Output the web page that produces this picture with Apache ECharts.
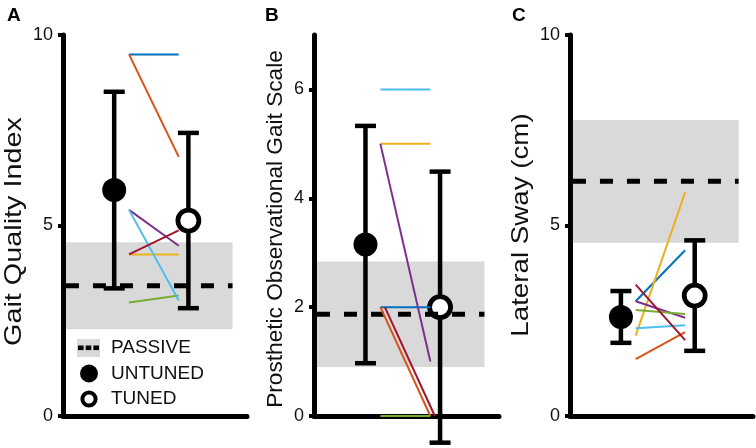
<!DOCTYPE html>
<html>
<head>
<meta charset="utf-8">
<script src="https://cdn.jsdelivr.net/npm/echarts@6/dist/echarts.min.js"></script>
<style>
html,body{margin:0;padding:0;background:#fff;}
#chart{width:756px;height:448px;}
</style>
</head>
<body>
<div id="chart"></div>
<script>
// ---------- DATA ----------
const panelLetters = ['A', 'B', 'C'];
const axisTitles = ['Gait Quality Index', 'Prosthetic Observational Gait Scale', 'Lateral Sway (cm)'];
const yMax = [10, 7, 10];
const yTicks = [[0, 5, 10], [0, 2, 4, 6], [0, 5, 10]];
const subjectColors = ['#0072BD', '#D95319', '#EDB120', '#7E2F8E', '#77AC30', '#4DBEEE', '#A2142F'];

// per-subject values (untuned -> tuned), subjects in colour order above
const gqiUntuned = [9.49, 9.49, 4.24, 5.41, 2.98, 5.41, 4.24];
const gqiTuned   = [9.49, 6.80, 4.24, 4.47, 3.16, 3.03, 4.87];
const pogsUntuned = [2, 2, 5, 5, 0, 6, 2];
const pogsTuned   = [2, 0, 5, 1, 0, 6, 0];
const swayUntuned = [3.01, 1.49, 2.11, 3.01, 2.78, 2.30, 3.45];
const swayTuned   = [4.35, 2.20, 5.87, 2.58, 2.68, 2.38, 1.99];

// group mean and SD per panel
const untunedMean = [5.93, 3.15, 2.60];
const untunedSd   = [2.58, 2.18, 0.68];
const tunedMean   = [5.13, 2.00, 3.16];
const tunedSd     = [2.30, 2.49, 1.45];
const passiveMean = [3.42, 1.87, 6.16];
const passiveSd   = [1.14, 0.97, 1.61];

const legendLabels = ['PASSIVE', 'UNTUNED', 'TUNED'];

// ---------- LAYOUT ----------
const FONT = '"Liberation Sans", Arial, Helvetica, sans-serif';
const X_MIN = 0.31, X_MAX = 2.79;
const X_UNTUNED = 1, X_TUNED = 2;
const X_IND0 = 1.2, X_IND1 = 1.87;
const X_BAND0 = 0.35, X_BAND1 = 2.595;
const grids = [
  {left: 63, top: 35, width: 184, height: 381},
  {left: 314, top: 35, width: 185, height: 381},
  {left: 570, top: 35, width: 183, height: 381}
];
// rotated axis titles: centre, font size, stretch along the text
const titleX = [14, 276, 521.5];
const titleY = [231.5, 229, 225];
const titleSize = [24, 22, 24];
const titleStretch = [1.2, 1.03, 1.155];
const letterX = [7, 265, 512];
const pairs = [[gqiUntuned, gqiTuned], [pogsUntuned, pogsTuned], [swayUntuned, swayTuned]];
// small horizontal offset to keep overlapping subject lines visible (panel B, dark red)
const lineShift = [[0,0,0,0,0,0,0],[0,0,0,0,0,0,0.06],[0,0,0,0,0,0,0]];

const xAxes = [], yAxes = [], series = [];
for (let p = 0; p < 3; p++) {
  xAxes.push({
    type: 'value', gridIndex: p, min: X_MIN, max: X_MAX,
    axisLine: {show: true, lineStyle: {color: '#000', width: 5}},
    axisTick: {show: false}, axisLabel: {show: false}, splitLine: {show: false}
  });
  yAxes.push({
    type: 'value', gridIndex: p, min: 0, max: yMax[p],
    axisLine: {show: true, onZero: false, lineStyle: {color: '#000', width: 5}},
    axisTick: {show: true, length: 5, customValues: yTicks[p], lineStyle: {color: '#000', width: 4}},
    axisLabel: {customValues: yTicks[p], fontSize: 18, color: '#111', fontFamily: FONT, margin: 10},
    splitLine: {show: false}
  });

  // passive band
  series.push({
    type: 'line', xAxisIndex: p, yAxisIndex: p, data: [], silent: true,
    markArea: {
      silent: true,
      itemStyle: {color: '#d9d9d9', opacity: 1},
      data: [[
        {xAxis: X_BAND0, yAxis: passiveMean[p] - passiveSd[p]},
        {xAxis: X_BAND1, yAxis: passiveMean[p] + passiveSd[p]}
      ]]
    }
  });
  // passive mean dashed
  series.push({
    type: 'line', xAxisIndex: p, yAxisIndex: p, symbol: 'none', silent: true,
    data: [[X_BAND0, passiveMean[p]], [X_BAND1, passiveMean[p]]],
    lineStyle: {color: '#000', width: 5, type: [13, 14]}
  });
  // subject lines
  const [pre, post] = pairs[p];
  for (let s = 0; s < pre.length; s++) {
    series.push({
      type: 'line', xAxisIndex: p, yAxisIndex: p, symbol: 'none', silent: true, clip: false,
      data: [[X_IND0 + lineShift[p][s], pre[s]], [X_IND1 + lineShift[p][s], post[s]]],
      lineStyle: {color: subjectColors[s], width: 2}
    });
  }
  // error bars
  series.push({
    type: 'custom', xAxisIndex: p, yAxisIndex: p, silent: true, clip: false,
    data: [[X_UNTUNED, untunedMean[p], untunedSd[p]], [X_TUNED, tunedMean[p], tunedSd[p]]],
    renderItem: function (params, api) {
      const x = api.value(0), m = api.value(1), sd = api.value(2);
      const t = api.coord([x, m + sd]), b = api.coord([x, m - sd]);
      const hw = 10.5, st = {stroke: '#000', lineWidth: 4.5};
      return {type: 'group', children: [
        {type: 'line', shape: {x1: t[0], y1: t[1], x2: b[0], y2: b[1]}, style: st},
        {type: 'line', shape: {x1: t[0] - hw, y1: t[1], x2: t[0] + hw, y2: t[1]}, style: st},
        {type: 'line', shape: {x1: b[0] - hw, y1: b[1], x2: b[0] + hw, y2: b[1]}, style: st}
      ]};
    }
  });
  // markers
  series.push({
    type: 'scatter', xAxisIndex: p, yAxisIndex: p, silent: true,
    symbol: 'circle', symbolSize: 24,
    data: [[X_UNTUNED, untunedMean[p]]],
    itemStyle: {color: '#000', opacity: 1}
  });
  series.push({
    type: 'scatter', xAxisIndex: p, yAxisIndex: p, silent: true,
    symbol: 'circle', symbolSize: 21,
    data: [[X_TUNED, tunedMean[p]]],
    itemStyle: {color: '#fff', borderColor: '#000', borderWidth: 4.8, opacity: 1}
  });
}

const graphics = [];
for (let p = 0; p < 3; p++) {
  graphics.push({
    type: 'text', left: letterX[p], top: 6,
    style: {text: panelLetters[p], fontSize: 19, fontWeight: 'bold', fill: '#000', fontFamily: FONT}
  });
  graphics.push({
    type: 'text', x: titleX[p], y: titleY[p], rotation: Math.PI / 2,
    scaleX: titleStretch[p], scaleY: 1,
    style: {text: axisTitles[p], fontSize: titleSize[p], fill: '#111', fontFamily: FONT,
            align: 'center', verticalAlign: 'middle', textAlign: 'center', textVerticalAlign: 'middle'}
  });
}
// legend (panel A)
graphics.push({type: 'rect', shape: {x: 77, y: 339, width: 23, height: 18}, style: {fill: '#d9d9d9'}});
[80.8, 88.5, 96.2].forEach(cx => graphics.push({
  type: 'rect', shape: {x: cx - 2.8, y: 345.5, width: 5.6, height: 4.6}, style: {fill: '#000'}
}));
graphics.push({type: 'circle', shape: {cx: 89, cy: 373.5, r: 9}, style: {fill: '#000'}});
graphics.push({type: 'circle', shape: {cx: 89, cy: 399, r: 6.6}, style: {fill: '#fff', stroke: '#000', lineWidth: 4}});
[348, 373.5, 399].forEach((y, i) => graphics.push({
  type: 'text', x: 111, y: y,
  style: {text: legendLabels[i], fontSize: 19, fill: '#111', fontFamily: FONT, textVerticalAlign: 'middle', verticalAlign: 'middle'}
}));

const chart = echarts.init(document.getElementById('chart'), null, {renderer: 'canvas'});
chart.setOption({
  animation: false,
  backgroundColor: '#fff',
  grid: grids,
  xAxis: xAxes,
  yAxis: yAxes,
  series: series,
  graphic: graphics
});
</script>
</body>
</html>
